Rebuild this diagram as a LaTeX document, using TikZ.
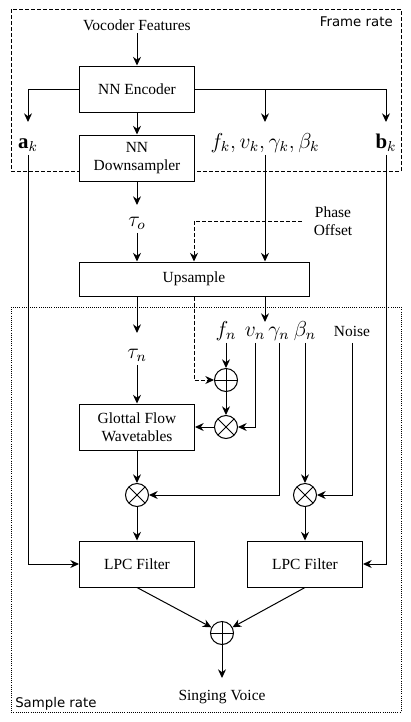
\documentclass[tikz,border=0pt]{standalone}
\usepackage{amsmath}
\usepackage{graphicx}
\usepackage{fontspec}
\setmainfont{Liberation Serif}
\setsansfont{DejaVu Sans}
\usetikzlibrary{
  arrows.meta,
  positioning,
  calc
}
\newcommand{\sigtxt}[1]{\scalebox{1.35}{$#1$}}
\tikzset{
  % Processing block: fixed width and height
  blk/.style={
    rectangle, draw, fill=white, line width=0.75pt,
    minimum width=86.25pt, minimum height=34.5pt,
    align=center, inner sep=1pt
  },
  % Summing junction
  sumnode/.style={
    circle, draw, fill=white, line width=0.75pt,
    minimum size=17.25pt, inner sep=0pt,
    path picture={
      \draw[line width=0.75pt]
        (path picture bounding box.north) -- (path picture bounding box.south)
        (path picture bounding box.west) -- (path picture bounding box.east);
    }
  },
  % Multiplier
  mulnode/.style={
    circle, draw, fill=white, line width=0.75pt,
    minimum size=17.25pt, inner sep=0pt,
    path picture={
      \draw[line width=0.75pt]
        (path picture bounding box.north west) -- (path picture bounding box.south east)
        (path picture bounding box.south west) -- (path picture bounding box.north east);
    }
  },
  % Signal label
  sig/.style={inner sep=2pt, text height=8pt, text depth=3pt},
  % Arrow
  arr/.style={-{Stealth[length=6.5pt,width=6pt]}, line width=0.75pt},
  % Rate region outline
  zone/.style={draw, line width=0.6pt, #1},
  zonelbl/.style={font=\sffamily\fontsize{10}{12}\selectfont, inner sep=0pt}
}

\begin{document}
\begin{tikzpicture}[x=0.75pt, y=-0.75pt, font=\fontsize{11.6}{13.5}\selectfont]

  \useasboundingbox (0,0) rectangle (411,722);

  % Rate regions
  \draw[zone={dash pattern=on 3pt off 1.5pt}] (11,9) rectangle (401,171);
  \draw[zone={densely dotted}] (11,307) rectangle (401,712);
  \node[zonelbl, anchor=base east] (frate) at (393,26) {Frame rate};
  \node[zonelbl, anchor=base west] (srate) at (15,707) {Sample rate};

  % Frame-rate part
  \node[anchor=base, inner sep=2pt] (voc) at (137,30) {Vocoder Features};
  \node[blk] (enc)  at (137,89)  {NN Encoder};
  \node[blk] (down) at (137,158) {NN\\Downsampler};

  \coordinate (aktip) at (28,122);
  \coordinate (fktip) at (265,122);
  \coordinate (bktip) at (386,122);
  \node[sig, anchor=base] (ak) at (28,148)  {\sigtxt{\mathbf{a}_k}};
  \node[sig, anchor=base] (fk) at (265,148) {\sigtxt{f_k, v_k, \gamma_k, \beta_k}};
  \node[sig, anchor=base] (bk) at (386,148) {\sigtxt{\mathbf{b}_k}};

  \coordinate (totip) at (137,205);
  \node[sig, anchor=base] (tauo) at (137,226) {\sigtxt{\tau_o}};
  \node[align=center, inner xsep=9pt, inner ysep=1pt] (phase) at (333,221) {Phase\\Offset};

  \node[blk, minimum width=172.5pt, minimum height=25.5pt] (up) at (194,279) {Upsample};

  % Sample-rate part
  \coordinate (tntip) at (137,333);
  \coordinate (uptip) at (265,322);
  \node[sig, anchor=base] (taun)  at (137,358) {\sigtxt{\tau_n}};
  \node[sig, anchor=base] (fn)    at (226,336) {\sigtxt{f_n}};
  \node[sig, anchor=base] (vn)    at (255,336) {\sigtxt{v_n}};
  \node[sig, anchor=base] (gn)    at (279,336) {\sigtxt{\gamma_n}};
  \node[sig, anchor=base] (bn)    at (305,336) {\sigtxt{\beta_n}};
  \node[sig, anchor=base] (noise) at (352,336) {Noise};

  \node[sumnode] (sum1) at (226,380) {};
  \node[mulnode] (mul1) at (226,427) {};
  \node[blk] (glot) at (137,427) {Glottal Flow\\Wavetables};
  \node[mulnode] (mul2) at (137,495) {};
  \node[mulnode] (mul3) at (305,495) {};

  \node[blk] (lpc1) at (137,564) {LPC Filter};
  \node[blk] (lpc2) at (305,564) {LPC Filter};
  \node[sumnode] (sum2) at (222,633) {};
  \coordinate (vtip) at (222,678);
  \node[anchor=base, inner sep=2pt] (voice) at (222,700) {Singing Voice};

  % Connectors
  \draw[arr] (voc) -- (enc);
  \draw[arr] (enc) -- (down);
  \draw[arr] (enc.west) -| (aktip);
  \draw[arr] (enc.east) -| (bktip);
  \draw[arr] (enc.east -| fktip) -- (fktip);
  \draw[arr] (down) -- (totip);
  \draw[arr] (tauo) -- (tauo |- up.north);
  \draw[arr] (fk) -- (fk |- up.north);
  \draw[arr, dash pattern=on 3pt off 1.5pt] (phase.west) -| (up.north);
  \draw[arr, dash pattern=on 3pt off 1.5pt] (up.south) |- (sum1.west);

  \draw[arr] (up.south -| tntip) -- (tntip);
  \draw[arr] (up.south -| uptip) -- (uptip);
  \draw[arr] (taun) -- (glot);
  \draw[arr] (fn) -- (sum1);
  \draw[arr] (sum1) -- (mul1);
  \draw[arr] (vn) |- (mul1);
  \draw[arr] (mul1) -- (glot);
  \draw[arr] (glot) -- (mul2);
  \draw[arr] (gn) |- (mul2);
  \draw[arr] (bn) -- (mul3);
  \draw[arr] (noise) |- (mul3);

  \draw[arr] (ak) |- (lpc1.west);
  \draw[arr] (bk) |- (lpc2.east);
  \draw[arr] (mul2) -- (lpc1);
  \draw[arr] (mul3) -- (lpc2);
  \draw[arr] (lpc1.south) -- (sum2);
  \draw[arr] (lpc2.south) -- (sum2);
  \draw[arr] (sum2) -- (vtip);

\end{tikzpicture}
\end{document}
